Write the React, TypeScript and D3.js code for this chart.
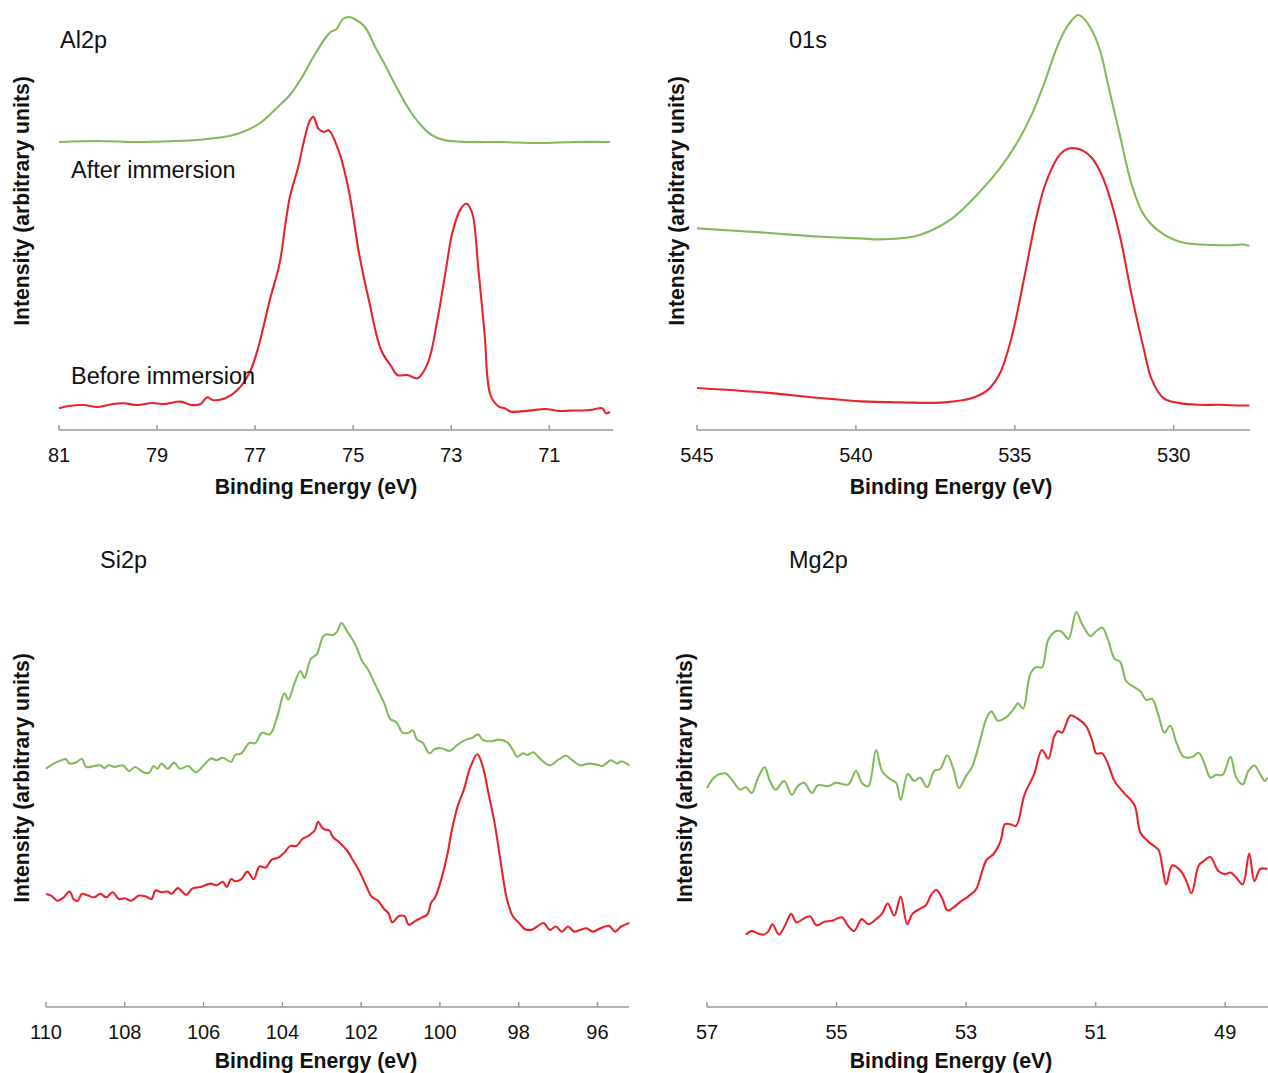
import React from "react";
import * as d3 from "d3";

// ---------- DATA (binding energy eV, intensity arbitrary units) ----------
const al2pTicks = [81, 79, 77, 75, 73, 71];
const o1sTicks = [545, 540, 535, 530];
const si2pTicks = [110, 108, 106, 104, 102, 100, 98, 96];
const mg2pTicks = [57, 55, 53, 51, 49];

const al2pAfter: [number, number][] = [
  [81.0, 288], [80.2, 289], [79.4, 288], [78.6, 289], [78.19, 290], [77.53, 294], [77.2, 299], [76.87, 308],
  [76.54, 323], [76.29, 335], [76.04, 353], [75.79, 375], [75.55, 393], [75.46, 398], [75.34, 401],
  [75.21, 411], [75.09, 413], [74.97, 411], [74.76, 403], [74.55, 383], [74.35, 365], [74.14, 345],
  [73.89, 323], [73.64, 306], [73.4, 295], [73.15, 290], [72.65, 288], [72.0, 288], [71.2, 287],
  [70.5, 288], [69.76, 288],
];
const al2pBefore: [number, number][] = [
  [81.0, 21.7], [80.8, 24], [80.5, 25], [80.2, 23], [79.9, 26], [79.68, 26.7], [79.4, 25], [79.1, 27],
  [78.85, 26], [78.52, 28.4], [78.3, 25], [78.11, 26], [77.98, 32.7], [77.86, 30], [77.61, 31.7],
  [77.36, 40], [77.12, 56.7], [76.95, 80], [76.7, 130], [76.5, 166.6], [76.37, 209.9], [76.29, 233.2],
  [76.12, 263.2], [76.0, 289.8], [75.88, 309.8], [75.81, 313.1], [75.71, 301.4], [75.59, 298.1],
  [75.5, 299.8], [75.3, 279.8], [75.09, 239.8], [74.88, 176.6], [74.68, 129.9], [74.43, 80],
  [74.22, 63.4], [74.1, 55], [73.89, 55], [73.69, 51.7], [73.48, 66.7], [73.27, 113.3], [73.11, 159.9],
  [72.98, 196.5], [72.82, 219.9], [72.69, 226.5], [72.57, 216.5], [72.45, 163.2], [72.32, 96.7],
  [72.2, 35], [72.03, 23.4], [71.91, 21.7], [71.78, 18.4], [71.41, 19.4], [71.08, 21], [70.8, 19],
  [70.59, 19.4], [70.17, 20], [69.92, 21.7], [69.84, 16.7], [69.76, 18.4],
];

const o1sAfter: [number, number][] = [
  [545.0, 201.6], [542.99, 197.6], [541.11, 193.2], [539.85, 191.6], [539.23, 190.6], [538.22, 193.2],
  [537.72, 198.3], [536.97, 211.7], [536.09, 238.6], [535.46, 262.1], [534.96, 285.6], [534.46, 315.9],
  [534.08, 346.1], [533.71, 379.7], [533.45, 398.2], [533.2, 410], [533.01, 415], [532.83, 411.6],
  [532.58, 399.9], [532.32, 379.7], [532.07, 346.1], [531.7, 295.7], [531.32, 245.3], [530.94, 215.1],
  [530.44, 198.3], [529.81, 188.2], [529.19, 185.5], [528.18, 184.8], [527.81, 185.5], [527.62, 184.2],
];
const o1sBefore: [number, number][] = [
  [545.0, 42], [542.99, 37.7], [541.11, 32], [539.85, 28.6], [538.6, 27.6], [537.22, 27.6], [536.34, 32],
  [535.84, 40.4], [535.46, 57.2], [535.09, 94.1], [534.71, 151.2], [534.33, 211.7], [534.08, 242],
  [533.83, 262.1], [533.58, 275.6], [533.33, 281.3], [533.08, 281.6], [532.83, 278.9], [532.58, 272.2],
  [532.32, 258.8], [532.07, 238.6], [531.7, 194.9], [531.32, 134.4], [530.94, 80.7], [530.69, 50.4],
  [530.32, 31.9], [529.81, 26.9], [529.19, 25.2], [528.56, 25.2], [527.93, 24.5], [527.62, 24.5],
];

const si2pAfter: [number, number][] = [
  [110.0, 238.3], [109.81, 243.4], [109.61, 246.8], [109.5, 247.9], [109.4, 243.4], [109.24, 244.4],
  [109.09, 247.9], [108.98, 240], [108.78, 241], [108.62, 241.7], [108.52, 239], [108.41, 241.7],
  [108.26, 240], [108.05, 241.7], [107.89, 235.9], [107.74, 240], [107.53, 234.8], [107.38, 234.2],
  [107.27, 241], [107.17, 238.3], [107.07, 243.4], [106.91, 238.3], [106.75, 244.4], [106.6, 238.3],
  [106.39, 241], [106.2, 234.8], [105.98, 242.4], [105.82, 248.6], [105.67, 246.8], [105.51, 249.2],
  [105.3, 245.1], [105.2, 252], [105.04, 253.7], [104.84, 264], [104.68, 264], [104.52, 274.3],
  [104.32, 272.6], [104.11, 293.1], [103.95, 313.7], [103.85, 307.5], [103.69, 324], [103.54, 336],
  [103.44, 329.1], [103.28, 348], [103.12, 353.1], [102.97, 370.3], [102.87, 372.7], [102.71, 372],
  [102.61, 375.4], [102.5, 384], [102.35, 375.4], [102.14, 361.7], [101.98, 346.3], [101.83, 337.7],
  [101.62, 320.6], [101.41, 303.4], [101.26, 288], [101.1, 284.6], [100.95, 274.3], [100.79, 274.3],
  [100.69, 276.7], [100.58, 267.4], [100.43, 264], [100.27, 253.7], [100.12, 258.2], [99.96, 258.8],
  [99.75, 256.1], [99.55, 262.3], [99.34, 267.4], [99.18, 269.1], [99.03, 272.6], [98.92, 267.4],
  [98.72, 265.7], [98.51, 267.4], [98.3, 265], [98.15, 257.1], [98.04, 250.3], [97.89, 253.7],
  [97.78, 252], [97.63, 254.7], [97.47, 248.6], [97.21, 241.7], [97.01, 246.8], [96.8, 251.3],
  [96.64, 246.8], [96.44, 241.7], [96.23, 243.4], [96.02, 242.4], [95.87, 241], [95.66, 246.8],
  [95.5, 243.4], [95.4, 245.8], [95.19, 241.7],
];
const si2pBefore: [number, number][] = [
  [110.0, 113.1], [109.87, 111.4], [109.71, 106.3], [109.55, 109.7], [109.4, 115.5], [109.29, 107.3],
  [109.19, 106.3], [109.09, 113.1], [108.93, 111.4], [108.78, 109.7], [108.62, 113.1], [108.47, 109.7],
  [108.31, 114.8], [108.15, 108], [108.0, 108.7], [107.84, 106.3], [107.64, 111.4], [107.48, 110.7],
  [107.32, 108], [107.22, 116.5], [107.07, 114.8], [106.91, 115.5], [106.81, 113.1], [106.65, 118.9],
  [106.44, 112.1], [106.29, 118.3], [106.08, 120], [105.82, 123.4], [105.67, 121.7], [105.51, 125.1],
  [105.41, 120], [105.3, 127.9], [105.2, 125.8], [105.04, 127.9], [104.89, 135.4], [104.73, 127.9],
  [104.58, 140.5], [104.42, 139.5], [104.27, 147.4], [104.11, 149.1], [103.95, 154.3], [103.8, 161.1],
  [103.64, 161.1], [103.49, 168], [103.33, 171.4], [103.18, 176.5], [103.09, 185.1], [102.97, 178.3],
  [102.81, 176.5], [102.71, 169.7], [102.55, 164.5], [102.35, 156], [102.19, 145.7], [102.04, 135.4],
  [101.88, 121.7], [101.72, 109.7], [101.57, 106.3], [101.41, 97.7], [101.31, 94.2], [101.21, 84.6],
  [101.05, 90.8], [100.9, 90.8], [100.79, 82.2], [100.64, 85.7], [100.48, 89.1], [100.32, 92.5],
  [100.22, 104.5], [100.12, 109.7], [99.96, 128.5], [99.81, 152.5], [99.7, 176.5], [99.55, 200.6],
  [99.39, 217.7], [99.24, 238.3], [99.05, 252.7], [98.92, 241.7], [98.77, 214.3], [98.61, 183.4],
  [98.46, 145.7], [98.3, 108], [98.15, 90.8], [97.99, 84], [97.84, 77.8], [97.68, 77.1], [97.53, 80.5],
  [97.37, 84], [97.21, 77.1], [97.06, 80.5], [96.9, 75.4], [96.75, 80.5], [96.59, 75.4], [96.44, 77.1],
  [96.28, 78.8], [96.12, 75.4], [95.92, 78.8], [95.71, 81.2], [95.55, 75.4], [95.4, 80.5], [95.19, 84],
];

const mg2pAfter: [number, number][] = [
  [57.0, 219], [56.89, 229.4], [56.8, 232.9], [56.71, 233.5], [56.62, 227.7], [56.49, 217.3], [56.4, 219.7],
  [56.31, 213.9], [56.21, 229.4], [56.11, 239.8], [56.03, 226], [55.94, 217.3], [55.81, 226], [55.69, 212.2],
  [55.6, 220.8], [55.5, 224.2], [55.38, 213.9], [55.29, 221.8], [55.13, 220.8], [55.01, 224.2],
  [54.82, 222.5], [54.7, 236.3], [54.61, 224.2], [54.51, 220.8], [54.39, 257], [54.3, 236.3],
  [54.17, 227.7], [54.08, 224.2], [54.01, 207], [53.9, 232.9], [53.8, 226], [53.71, 229.4], [53.6, 219.7],
  [53.49, 236.3], [53.4, 238], [53.29, 251.8], [53.19, 236.3], [53.11, 219], [53.0, 231.1], [52.91, 239.8],
  [52.78, 267.4], [52.69, 288], [52.61, 295.6], [52.51, 286.3], [52.38, 289.8], [52.26, 298.4],
  [52.2, 303.6], [52.12, 298.4], [52.01, 332.9], [51.92, 339.8], [51.83, 339.8], [51.73, 367.4],
  [51.61, 376], [51.52, 375], [51.42, 368.1], [51.3, 395], [51.21, 382.9], [51.08, 370.9], [50.99, 376],
  [50.9, 379.5], [50.81, 367.4], [50.71, 348.4], [50.62, 345], [50.53, 326], [50.43, 320.8], [50.31, 315.7],
  [50.22, 307], [50.13, 308.1], [50.03, 291.5], [49.94, 274.3], [49.85, 281.2], [49.75, 263.9],
  [49.64, 250.1], [49.51, 250.1], [49.41, 254.2], [49.32, 243.2], [49.23, 229.4], [49.14, 232.2],
  [49.04, 232.2], [48.92, 250.1], [48.83, 229.4], [48.73, 222.5], [48.64, 236.3], [48.55, 241.5],
  [48.46, 232.9], [48.39, 226], [48.35, 229.4],
];
const mg2pBefore: [number, number][] = [
  [56.4, 72.4], [56.31, 75.9], [56.21, 73.5], [56.12, 72.4], [56.05, 75.9], [55.99, 82.8], [55.89, 72.4],
  [55.8, 81], [55.7, 93.1], [55.62, 84.5], [55.52, 87.9], [55.41, 90.7], [55.31, 81.7], [55.19, 85.2],
  [55.07, 86.2], [54.92, 89.7], [54.82, 81], [54.73, 75.9], [54.61, 87.9], [54.51, 82.8], [54.39, 87.9],
  [54.3, 93.1], [54.21, 103.5], [54.11, 91.4], [54.01, 110.4], [53.91, 82.8], [53.83, 93.1], [53.71, 98.3],
  [53.62, 101.8], [53.54, 112.1], [53.46, 117.3], [53.37, 108.7], [53.29, 96.6], [53.22, 98.3],
  [53.09, 105.2], [52.97, 110.4], [52.85, 117.3], [52.75, 136.3], [52.69, 146.6], [52.57, 153.5],
  [52.47, 165.6], [52.4, 182.8], [52.32, 182.8], [52.23, 181.1], [52.1, 212.2], [51.95, 232.9],
  [51.83, 257], [51.73, 248.4], [51.64, 270.8], [51.58, 276], [51.52, 274.3], [51.39, 291.5],
  [51.27, 288], [51.15, 281.2], [51.05, 265.6], [50.99, 253.6], [50.9, 253.6], [50.81, 243.2],
  [50.71, 226], [50.56, 213.9], [50.4, 201.8], [50.31, 174.2], [50.19, 165.6], [50.03, 157],
  [49.97, 139.7], [49.91, 122.5], [49.82, 141.5], [49.69, 136.3], [49.6, 125.9], [49.52, 113.8],
  [49.41, 141.5], [49.32, 146.6], [49.23, 150], [49.11, 136.3], [49.01, 132.8], [48.92, 134.5],
  [48.83, 129.4], [48.73, 122.5], [48.63, 153.5], [48.55, 125.9], [48.46, 138], [48.35, 138],
];

const xTitle = "Binding Energy (eV)";
const yTitle = "Intensity (arbitrary units)";

// ---------- LAYOUT ----------
const W = 1268;
const H = 1073;
const GREEN = "#82bb5a";
const RED = "#e8232d";
const AXIS = "#9a9a9a";
const FONT = "'Liberation Sans', Arial, sans-serif";

type Panel = {
  title: string;
  titleX: number;
  titleY: number;
  xDomain: [number, number];
  xRange: [number, number];
  axisY: number;
  ticks: number[];
  after: [number, number][];
  before: [number, number][];
  yTitleX: number;
  yTitleCY: number;
  xTitleCX: number;
  xTitleY: number;
};

const panels: Panel[] = [
  {
    title: "Al2p", titleX: 60, titleY: 48,
    xDomain: [81, 69.7], xRange: [59, 613], axisY: 430, ticks: al2pTicks,
    after: al2pAfter, before: al2pBefore, yTitleX: 29, yTitleCY: 201, xTitleCX: 316, xTitleY: 494,
  },
  {
    title: "01s", titleX: 789, titleY: 48,
    xDomain: [545, 527.6], xRange: [697, 1250], axisY: 430, ticks: o1sTicks,
    after: o1sAfter, before: o1sBefore, yTitleX: 684, yTitleCY: 201, xTitleCX: 951, xTitleY: 494,
  },
  {
    title: "Si2p", titleX: 100, titleY: 568,
    xDomain: [110, 95.2], xRange: [46, 629], axisY: 1007, ticks: si2pTicks,
    after: si2pAfter, before: si2pBefore, yTitleX: 29, yTitleCY: 778, xTitleCX: 316, xTitleY: 1068,
  },
  {
    title: "Mg2p", titleX: 789, titleY: 568,
    xDomain: [57, 48.34], xRange: [707, 1268], axisY: 1007, ticks: mg2pTicks,
    after: mg2pAfter, before: mg2pBefore, yTitleX: 692, yTitleCY: 778, xTitleCX: 951, xTitleY: 1068,
  },
];

function PanelView({ p }: { p: Panel }) {
  const x = d3.scaleLinear().domain(p.xDomain).range(p.xRange);
  const y = d3.scaleLinear().domain([0, 420]).range([p.axisY, p.axisY - 420]);
  const line = d3
    .line<[number, number]>()
    .x((d) => x(d[0]))
    .y((d) => y(d[1]))
    .curve(d3.curveCatmullRom.alpha(0.5));
  return (
    <g>
      <path d={line(p.after) || ""} fill="none" stroke={GREEN} strokeWidth={2.1} strokeLinejoin="round" />
      <path d={line(p.before) || ""} fill="none" stroke={RED} strokeWidth={2.1} strokeLinejoin="round" />
      <line x1={p.xRange[0]} x2={p.xRange[1]} y1={p.axisY} y2={p.axisY} stroke={AXIS} strokeWidth={1.5} />
      {p.ticks.map((t) => (
        <g key={t}>
          <line x1={x(t)} x2={x(t)} y1={p.axisY} y2={p.axisY - 5} stroke={AXIS} strokeWidth={1.5} />
          <text x={x(t)} y={p.axisY + 32} textAnchor="middle" fontSize={20} fontFamily={FONT} fill="#111">
            {t}
          </text>
        </g>
      ))}
      <text x={p.xTitleCX} y={p.xTitleY} textAnchor="middle" fontSize={21.2} fontWeight="bold" fontFamily={FONT} fill="#111">
        {xTitle}
      </text>
      <text
        transform={`translate(${p.yTitleX},${p.yTitleCY}) rotate(-90)`}
        textAnchor="middle"
        fontSize={21.2}
        fontWeight="bold"
        fontFamily={FONT}
        fill="#111"
      >
        {yTitle}
      </text>
      <text x={p.titleX} y={p.titleY} fontSize={23.5} fontFamily={FONT} fill="#111">
        {p.title}
      </text>
    </g>
  );
}

export default function App() {
  return (
    <svg
      width={W}
      height={H}
      viewBox={`0 0 ${W} ${H}`}
      style={{ position: "absolute", left: 0, top: 0, background: "#fff" }}
    >
      <rect width={W} height={H} fill="#fff" />
      {panels.map((p) => (
        <PanelView key={p.title} p={p} />
      ))}
      <text x={71} y={178} fontSize={23.5} fontFamily={FONT} fill="#111">After immersion</text>
      <text x={71} y={384} fontSize={23.5} fontFamily={FONT} fill="#111">Before immersion</text>
    </svg>
  );
}
